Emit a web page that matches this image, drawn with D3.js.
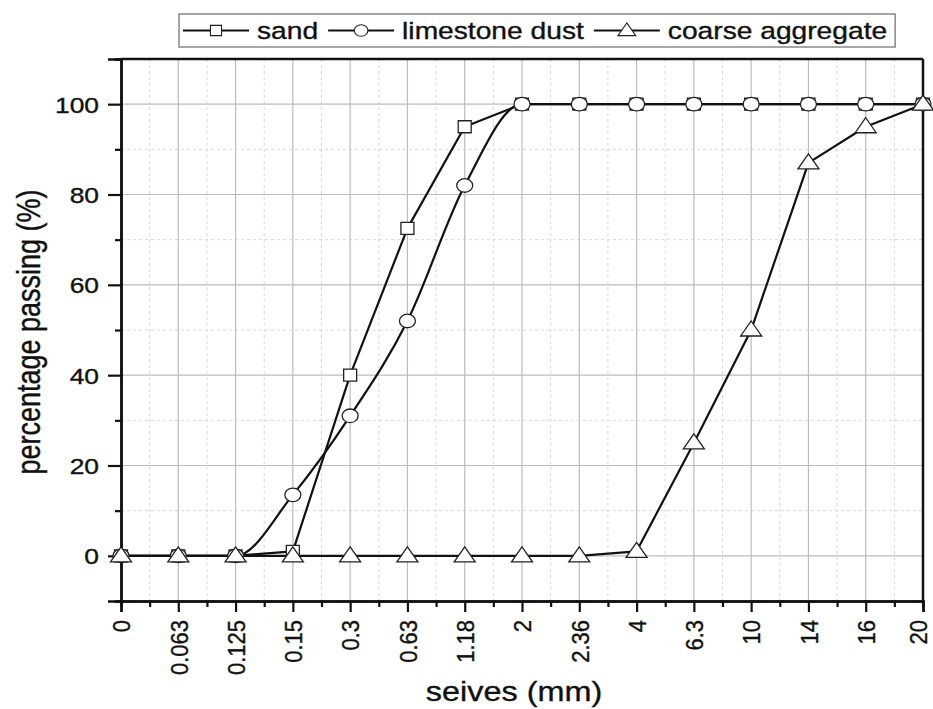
<!DOCTYPE html>
<html>
<head>
<meta charset="utf-8">
<script src="https://cdn.jsdelivr.net/npm/d3@7"></script>
<style>
  html, body { margin: 0; padding: 0; background: #fff; }
  svg { display: block; font-family: "Liberation Sans", Arial, sans-serif; }
  svg text { stroke: #111; stroke-width: 0.35px; }
</style>
</head>
<body>
<svg id="chart" width="933" height="709"></svg>
<script>
// ---- data ----
const categories = ["0", "0.063", "0.125", "0.15", "0.3", "0.63", "1.18", "2", "2.36", "4", "6.3", "10", "14", "16", "20"];
const sandValues = [0, 0, 0, 1, 40, 72.5, 95, 100, 100, 100, 100, 100, 100, 100, 100];
const limestoneValues = [0, 0, 0, 13.5, 31, 52, 82, 100, 100, 100, 100, 100, 100, 100, 100];
const coarseValues = [0, 0, 0, 0, 0, 0, 0, 0, 0, 1, 25, 50, 87, 95, 100];
const seriesNames = ["sand", "limestone dust", "coarse aggregate"];
const yMajorTicks = [0, 20, 40, 60, 80, 100];
const yMinorTicks = [-10, 10, 30, 50, 70, 90, 110];
const xTitle = "seives (mm)";
const yTitle = "percentage passing (%)";

(function () {
// ---- layout ----
const svg = d3.select("#chart");
const pLeft = 121, pRight = 923, pTop = 59, pBottom = 601;
const SX = 1.2; // horizontal stretch of the original picture

const x = d3.scalePoint().domain(categories).range([pLeft, pRight]);
const xi = d3.scaleLinear().domain([0, categories.length - 1]).range([pLeft, pRight]);
const y = d3.scaleLinear().domain([-10, 110]).range([pBottom, pTop]);

const minorIdx = d3.range(0, categories.length - 1).map(i => i + 0.5);

// ---- grid ----
const grid = svg.append("g");
grid.append("g").selectAll("line").data(minorIdx).join("line")
  .attr("x1", d => xi(d)).attr("x2", d => xi(d)).attr("y1", pTop).attr("y2", pBottom)
  .attr("stroke", "#d8d8d8").attr("stroke-width", 1).attr("stroke-dasharray", "3,3");
grid.append("g").selectAll("line").data(yMinorTicks.filter(v => v > -10 && v < 110)).join("line")
  .attr("x1", pLeft).attr("x2", pRight).attr("y1", d => y(d)).attr("y2", d => y(d))
  .attr("stroke", "#d8d8d8").attr("stroke-width", 1).attr("stroke-dasharray", "3,3");
grid.append("g").selectAll("line").data(categories.slice(1, -1)).join("line")
  .attr("x1", d => x(d)).attr("x2", d => x(d)).attr("y1", pTop).attr("y2", pBottom)
  .attr("stroke", "#bcbcbc").attr("stroke-width", 1.2);
grid.append("g").selectAll("line").data(yMajorTicks).join("line")
  .attr("x1", pLeft).attr("x2", pRight).attr("y1", d => y(d)).attr("y2", d => y(d))
  .attr("stroke", "#bcbcbc").attr("stroke-width", 1.2);

// ---- frame (top/right) ----
svg.append("line").attr("x1", pLeft).attr("x2", pRight).attr("y1", pTop).attr("y2", pTop)
  .attr("stroke", "#111").attr("stroke-width", 2.5);
svg.append("line").attr("x1", pRight).attr("x2", pRight).attr("y1", pTop).attr("y2", pBottom)
  .attr("stroke", "#111").attr("stroke-width", 2.5);

// ---- axes ----
const tickFont = 22;
const yAxisMinor = svg.append("g").attr("transform", `translate(${pLeft},0)`)
  .call(d3.axisLeft(y).tickValues(yMinorTicks).tickSize(6).tickFormat(""));
const yAxis = svg.append("g").attr("transform", `translate(${pLeft},0)`)
  .call(d3.axisLeft(y).tickValues(yMajorTicks).tickSize(13).tickFormat(d3.format("d")));
yAxis.selectAll("text")
  .attr("x", 0).attr("dy", "0.36em")
  .attr("transform", `translate(-22,0) scale(${SX},1)`)
  .attr("font-size", tickFont).attr("fill", "#111").attr("font-family", "Liberation Sans, Arial, sans-serif");

const xAxisMinor = svg.append("g").attr("transform", `translate(0,${pBottom})`)
  .call(d3.axisBottom(xi).tickValues(minorIdx).tickSize(6).tickFormat(""));
const xAxis = svg.append("g").attr("transform", `translate(0,${pBottom})`)
  .call(d3.axisBottom(x).tickSize(11));
xAxis.selectAll("text")
  .attr("x", 0).attr("y", 0).attr("dy", "0.36em")
  .attr("text-anchor", "end")
  .attr("transform", `translate(0,19) rotate(-90) scale(1,1.1)`)
  .attr("font-size", tickFont).attr("fill", "#111").attr("font-family", "Liberation Sans, Arial, sans-serif");
// keep the last label inside the picture
xAxis.selectAll(".tick").filter(d => d === categories[categories.length - 1]).select("text")
  .attr("transform", `translate(-5,19) rotate(-90) scale(1,1.05)`);

[yAxisMinor, yAxis, xAxisMinor, xAxis].forEach(a => {
  a.select(".domain").attr("stroke", "#111").attr("stroke-width", 2.5);
  a.selectAll(".tick line").attr("stroke", "#111").attr("stroke-width", 2.2);
});

// ---- axis titles ----
svg.append("text").text(xTitle)
  .attr("text-anchor", "middle")
  .attr("transform", `translate(514,701) scale(${SX},1)`)
  .attr("font-size", 27).attr("fill", "#111");
svg.append("text").text(yTitle)
  .attr("text-anchor", "middle")
  .attr("transform", `translate(40,332) rotate(-90) scale(1,${SX})`)
  .attr("font-size", 27).attr("fill", "#111");

// ---- series ----
const series = [
  { name: seriesNames[0], values: sandValues, curve: d3.curveLinear, marker: "square" },
  { name: seriesNames[1], values: limestoneValues, curve: d3.curveMonotoneX, marker: "circle" },
  { name: seriesNames[2], values: coarseValues, curve: d3.curveLinear, marker: "triangle" }
];

function markerPath(type) {
  if (type === "square") return "M-6.5,-6L6.5,-6L6.5,6L-6.5,6Z";
  if (type === "circle") {
    const rx = 8, ry = 6.8;
    return `M${-rx},0A${rx},${ry} 0 1,0 ${rx},0A${rx},${ry} 0 1,0 ${-rx},0Z`;
  }
  return "M0,-9L10.5,6L-10.5,6Z";
}

const lineGen = s => d3.line()
  .x((d, i) => x(categories[i]))
  .y(d => y(d))
  .curve(s.curve)(s.values);

const plot = svg.append("g");
series.forEach(s => {
  plot.append("path").attr("d", lineGen(s))
    .attr("fill", "none").attr("stroke", "#111").attr("stroke-width", 2.2)
    .attr("stroke-linejoin", "round");
});
series.forEach(s => {
  plot.append("g").selectAll("path").data(s.values).join("path")
    .attr("d", markerPath(s.marker))
    .attr("transform", (d, i) => `translate(${x(categories[i])},${y(d)})`)
    .attr("fill", "#fff").attr("stroke", "#222").attr("stroke-width", 1.3);
});

// ---- legend ----
const legend = svg.append("g");
const legBox = legend.append("rect")
  .attr("x", 179).attr("y", 14).attr("height", 33)
  .attr("fill", "#fff").attr("stroke", "#888").attr("stroke-width", 1.5);
let cx = 183;
const ly = 30.5;
series.forEach(s => {
  legend.append("line").attr("x1", cx).attr("x2", cx + 66).attr("y1", ly).attr("y2", ly)
    .attr("stroke", "#111").attr("stroke-width", 2.2);
  legend.append("path").attr("d", markerPath(s.marker))
    .attr("transform", `translate(${cx + 33},${ly}) scale(0.85)`)
    .attr("fill", "#fff").attr("stroke", "#222").attr("stroke-width", 1.3);
  const t = legend.append("text").text(s.name)
    .attr("dy", "0.36em")
    .attr("transform", `translate(${cx + 74},${ly}) scale(${SX},1)`)
    .attr("font-size", 23.5).attr("fill", "#111");
  const w = t.node().getComputedTextLength() * SX;
  cx = cx + 74 + w + 10;
});
legBox.attr("width", cx - 2 - 179);
})();
</script>
</body>
</html>
